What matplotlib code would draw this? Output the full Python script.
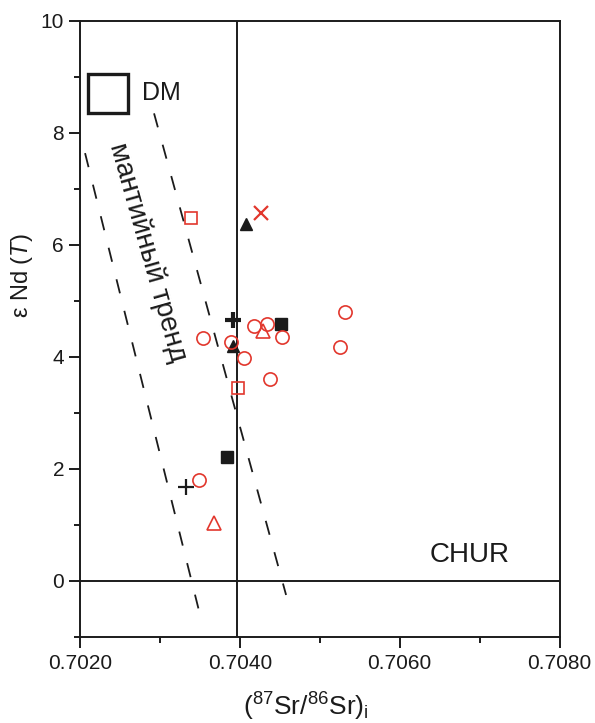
import matplotlib
matplotlib.use("Agg")
import matplotlib.pyplot as plt
from matplotlib.patches import Rectangle
from matplotlib.ticker import MultipleLocator, FormatStrFormatter

plt.rcParams['font.family'] = ['Liberation Sans', 'DejaVu Sans']
plt.rcParams['mathtext.fontset'] = 'custom'
plt.rcParams['mathtext.rm'] = 'Liberation Sans'
plt.rcParams['mathtext.it'] = 'Liberation Sans:italic'

RED = '#e2372d'
BLACK = '#1b1b1b'

# samples: (87Sr/86Sr)i and eNd(T)
circ_sr = [0.703536, 0.704178, 0.704337, 0.704532, 0.705313, 0.705254,
           0.703886, 0.704056, 0.704378, 0.703493]
circ_nd = [4.33, 4.55, 4.59, 4.35, 4.80, 4.17, 4.26, 3.98, 3.60, 1.80]

osq_sr = [0.703385, 0.703981]
osq_nd = [6.48, 3.45]

otri_sr = [0.704294, 0.703681]
otri_nd = [4.46, 1.04]

cross_sr = [0.704265]
cross_nd = [6.57]

fsq_sr = [0.704519, 0.703844]
fsq_nd = [4.59, 2.22]

ftri_sr = [0.704080, 0.703911]
ftri_nd = [6.38, 4.20]

plus_bold_sr = [0.703919]
plus_bold_nd = [4.66]

plus_thin_sr = [0.703327]
plus_thin_nd = [1.67]

# mantle array boundaries
trend_left_sr = [0.702063, 0.703481]
trend_left_nd = [7.64, -0.49]
trend_right_sr = [0.702926, 0.704578]
trend_right_nd = [8.35, -0.25]

chur_sr = 0.70397
chur_nd = 0.0

fig = plt.figure(figsize=(5.95, 7.23), dpi=100)
ax = fig.add_axes([0.1345, 0.119, 0.806, 0.852])

ax.set_xlim(0.702, 0.708)
ax.set_ylim(-1, 10)

# CHUR reference lines
ax.axvline(chur_sr, color=BLACK, lw=1.4, zorder=1)
ax.axhline(chur_nd, color=BLACK, lw=1.4, zorder=1)

ax.plot(trend_left_sr, trend_left_nd, color=BLACK, lw=1.3, dashes=(8, 10), zorder=1)
ax.plot(trend_right_sr, trend_right_nd, color=BLACK, lw=1.3, dashes=(8, 10), zorder=1)

# DM field
ax.add_patch(Rectangle((0.702104, 8.36), 0.000501, 0.69, fill=False,
                       edgecolor=BLACK, lw=2.4, zorder=2))
ax.text(0.702772, 8.71, 'DM', fontsize=18, ha='left', va='center', color=BLACK)
ax.text(0.706875, 0.455, 'CHUR', fontsize=20, ha='center', va='center', color=BLACK)
ax.text(0.702845, 5.87, 'мантийный тренд', fontsize=20, rotation=-74.2,
        rotation_mode='anchor', ha='center', va='center', color=BLACK)

ax.plot(ftri_sr, ftri_nd, '^', ms=9, color=BLACK, ls='none', zorder=3)
ax.plot(fsq_sr, fsq_nd, 's', ms=9, color=BLACK, ls='none', zorder=3)
ax.plot(plus_bold_sr, plus_bold_nd, '+', ms=12, mew=3, color=BLACK, ls='none', zorder=3)
ax.plot(plus_thin_sr, plus_thin_nd, '+', ms=12, mew=1.6, color=BLACK, ls='none', zorder=3)
ax.plot(circ_sr, circ_nd, 'o', ms=9.5, mfc='none', mec=RED, mew=1.2, ls='none', zorder=4)
ax.plot(osq_sr, osq_nd, 's', ms=8.5, mfc='none', mec=RED, mew=1.2, ls='none', zorder=4)
ax.plot(otri_sr, otri_nd, '^', ms=10, mfc='none', mec=RED, mew=1.2, ls='none', zorder=4)
ax.plot(cross_sr, cross_nd, 'x', ms=10, mec=RED, mew=1.6, ls='none', zorder=4)

ax.xaxis.set_major_locator(MultipleLocator(0.002))
ax.xaxis.set_minor_locator(MultipleLocator(0.001))
ax.xaxis.set_major_formatter(FormatStrFormatter('%.4f'))
ax.yaxis.set_major_locator(MultipleLocator(2))
ax.yaxis.set_minor_locator(MultipleLocator(1))

ax.tick_params(which='both', direction='out', top=False, right=False,
               width=1.4, colors=BLACK, labelsize=15)
ax.tick_params(axis='x', which='major', length=8, pad=4)
ax.tick_params(axis='y', which='major', length=8, pad=3.5)
ax.tick_params(which='minor', length=4.5)
for s in ax.spines.values():
    s.set_linewidth(1.4)
    s.set_color(BLACK)

ax.set_xlabel(r'($^{87}$Sr/$^{86}$Sr)$_{\mathrm{i}}$', fontsize=19, color=BLACK)
ax.xaxis.set_label_coords(0.47, -0.088)
ax.set_ylabel(r'ε Nd ($\mathit{T}$)', fontsize=17, color=BLACK)
ax.yaxis.set_label_coords(-0.094, 0.586)

fig.savefig('out.png', dpi=100)
